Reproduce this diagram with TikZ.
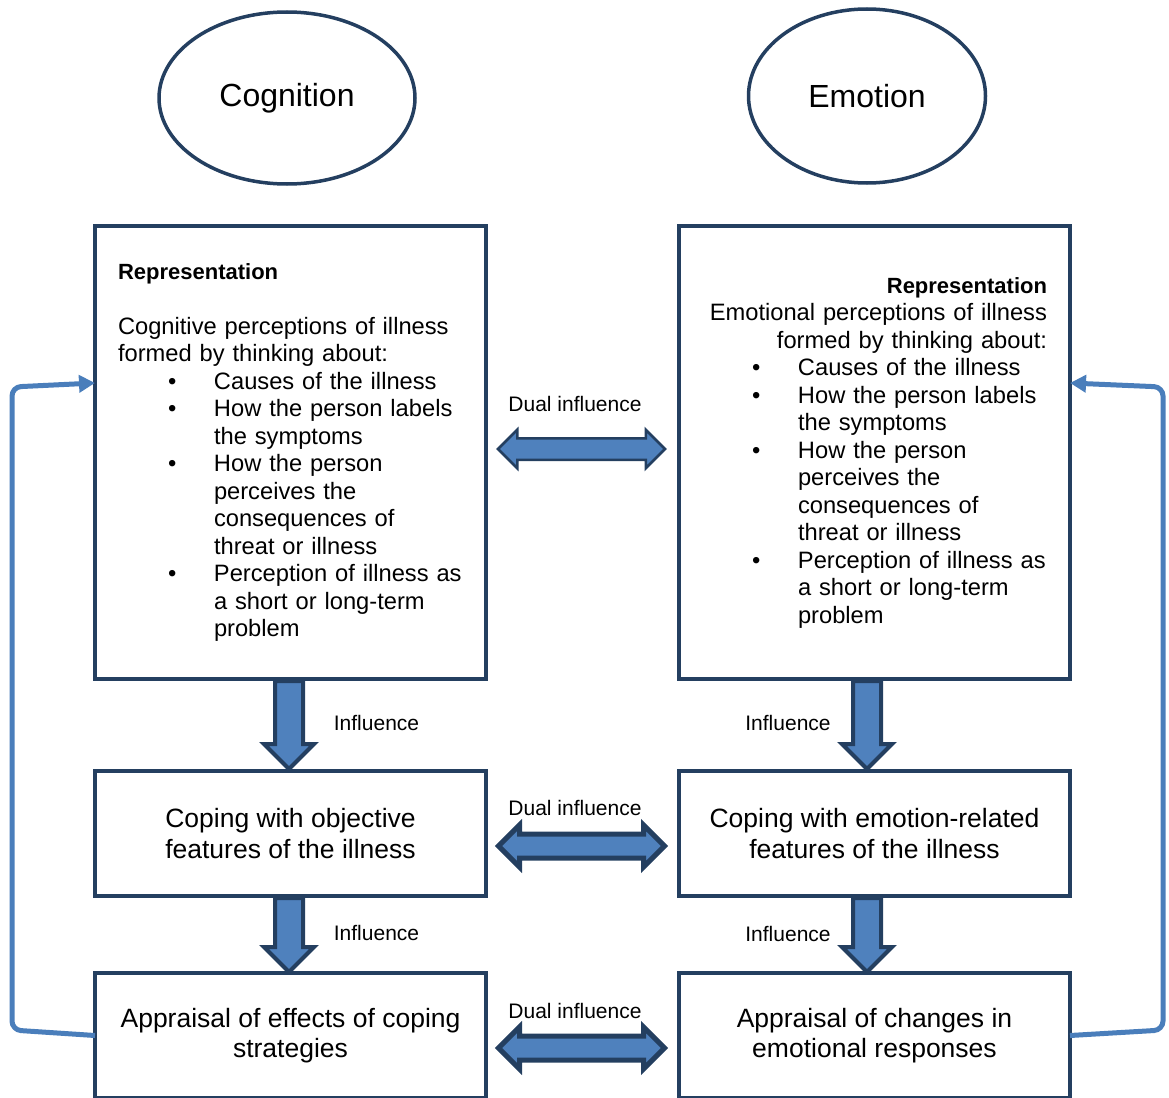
\documentclass[tikz,border=0pt]{standalone}
\usepackage{fontspec}
\setmainfont{Liberation Sans}
\usetikzlibrary{shapes.geometric,shapes.arrows,arrows.meta,calc}
\definecolor{navy}{HTML}{243F60}
\definecolor{arrowblue}{HTML}{4F81BD}
\definecolor{loopblue}{HTML}{4A7EBB}
\setlength{\parindent}{0pt}
% bullet column and continuation indent inside the representation boxes
\newcommand{\itemmark}{\makebox[96pt][l]{\hspace{50pt}\textbullet}}
\newcommand{\itemcont}{\hspace*{96pt}}
\newcommand{\rephead}{{\bfseries\fontsize{22}{27.5}\selectfont Representation}}

\begin{document}
\begin{tikzpicture}[x=1pt,y=-1pt,
  every node/.style={inner sep=0pt, outer sep=0pt},
  topic/.style={ellipse, draw=navy, line width=3.5pt, minimum width=256pt,
    minimum height=172pt, font=\fontsize{32}{36}\selectfont},
  repbox/.style={rectangle, draw=navy, line width=4pt, minimum width=391pt,
    minimum height=453pt, text width=345pt, align=left,
    font=\fontsize{23.7}{27.5}\selectfont},
  stagebox/.style={rectangle, draw=navy, line width=4pt, minimum width=391pt,
    minimum height=125pt, align=center, font=\fontsize{26.5}{30.5}\selectfont},
  downarrow/.style={single arrow, rotate=-90, draw=navy, fill=arrowblue,
    line width=4pt, inner ysep=12pt, minimum width=46pt,
    single arrow head extend=11pt, single arrow tip angle=90},
  duoarrow/.style={double arrow, draw=navy, fill=arrowblue, line width=5pt,
    inner ysep=9.5pt, minimum height=166pt, minimum width=37pt,
    double arrow head extend=9pt, double arrow tip angle=90},
  tag/.style={font=\fontsize{21}{24}\selectfont},
  loop/.style={draw=loopblue, line width=5pt, rounded corners=9pt,
    -{Triangle[length=16pt,width=17pt]}}
]
\useasboundingbox (0,0) rectangle (1169,1097);
\clip (0,0) rectangle (1169,1097);

% the two domains
\node[topic] (cog) at (287,98) {Cognition};
\node[topic, minimum width=237pt, minimum height=174pt] (emo) at (867,96) {Emotion};

% representation boxes
\node[repbox] (cogrep) at (290.5,452.5) {%
\rephead\\
\mbox{}\\
Cognitive perceptions of illness\\
formed by thinking about:\\
\itemmark\mbox{Causes of the illness}\\
\itemmark\mbox{How the person labels}\\
\itemcont the symptoms\\
\itemmark\mbox{How the person}\\
\itemcont perceives the\\
\itemcont consequences of\\
\itemcont threat or illness\\
\itemmark\mbox{Perception of illness as}\\
\itemcont\mbox{a short or long-term}\\
\itemcont problem};

\node[repbox] (emorep) at (874.5,452.5) {%
\hspace*{\fill}\rephead\hspace*{2pt}\\
\hspace*{\fill}\mbox{Emotional perceptions of illness}\hspace*{2pt}\\
\hspace*{\fill}formed by thinking about:\hspace*{2pt}\\
\itemmark\mbox{Causes of the illness}\\
\itemmark\mbox{How the person labels}\\
\itemcont the symptoms\\
\itemmark\mbox{How the person}\\
\itemcont perceives the\\
\itemcont consequences of\\
\itemcont threat or illness\\
\itemmark\mbox{Perception of illness as}\\
\itemcont\mbox{a short or long-term}\\
\itemcont problem};

% coping and appraisal stages
\node[stagebox] (cogcope) at (290.5,833.5) {Coping with objective\\features of the illness};
\node[stagebox] (emocope) at (874.5,833.5) {Coping with emotion-related\\features of the illness};
\node[stagebox] (cogapp) at (290.5,1035.5) {Appraisal of effects of coping\\strategies};
\node[stagebox] (emoapp) at (874.5,1035.5) {Appraisal of changes in\\emotional responses};

% downward influence arrows
\node[downarrow, minimum height=88pt] (ca1) at ($(cogrep.south)!0.5!(cogcope.north)+(-1.5,-7)$) {};
\node[downarrow, minimum height=88pt] (ea1) at ($(emorep.south)!0.5!(emocope.north)+(-7.5,-7)$) {};
\node[downarrow, minimum height=74pt] (ca2) at ($(cogcope.south)!0.5!(cogapp.north)+(-1.5,-6.5)$) {};
\node[downarrow, minimum height=74pt] (ea2) at ($(emocope.south)!0.5!(emoapp.north)+(-7.5,-6.5)$) {};

\node[tag] (ti1) at (376.5,723) {Influence};
\node[tag] (ti2) at (788,723) {Influence};
\node[tag] (ti3) at (376.5,933) {Influence};
\node[tag] (ti4) at (788,934) {Influence};

% dual influence arrows
\node[duoarrow, line width=2.5pt, minimum height=167pt, minimum width=36pt,
  double arrow head extend=8.5pt] (da1) at ($(cogrep.east)!0.5!(emorep.west)+(-1,-3.5)$) {};
\node[duoarrow] (da2) at ($(cogcope.east)!0.5!(emocope.west)+(-1,12.5)$) {};
\node[duoarrow] (da3) at ($(cogapp.east)!0.5!(emoapp.west)+(-1,12.5)$) {};

\node[tag] (td1) at (575,404) {Dual influence};
\node[tag] (td2) at (575,808) {Dual influence};
\node[tag] (td3) at (575,1011) {Dual influence};

% feedback loops from appraisal back to representation
\draw[loop] (cogapp.west) -- (12,1030) -- (12,387) -- ([yshift=69.5pt]cogrep.west);
\draw[loop] (emoapp.east) -- (1163,1030) -- (1163,387) -- ([yshift=69.5pt]emorep.east);
\end{tikzpicture}
\end{document}
